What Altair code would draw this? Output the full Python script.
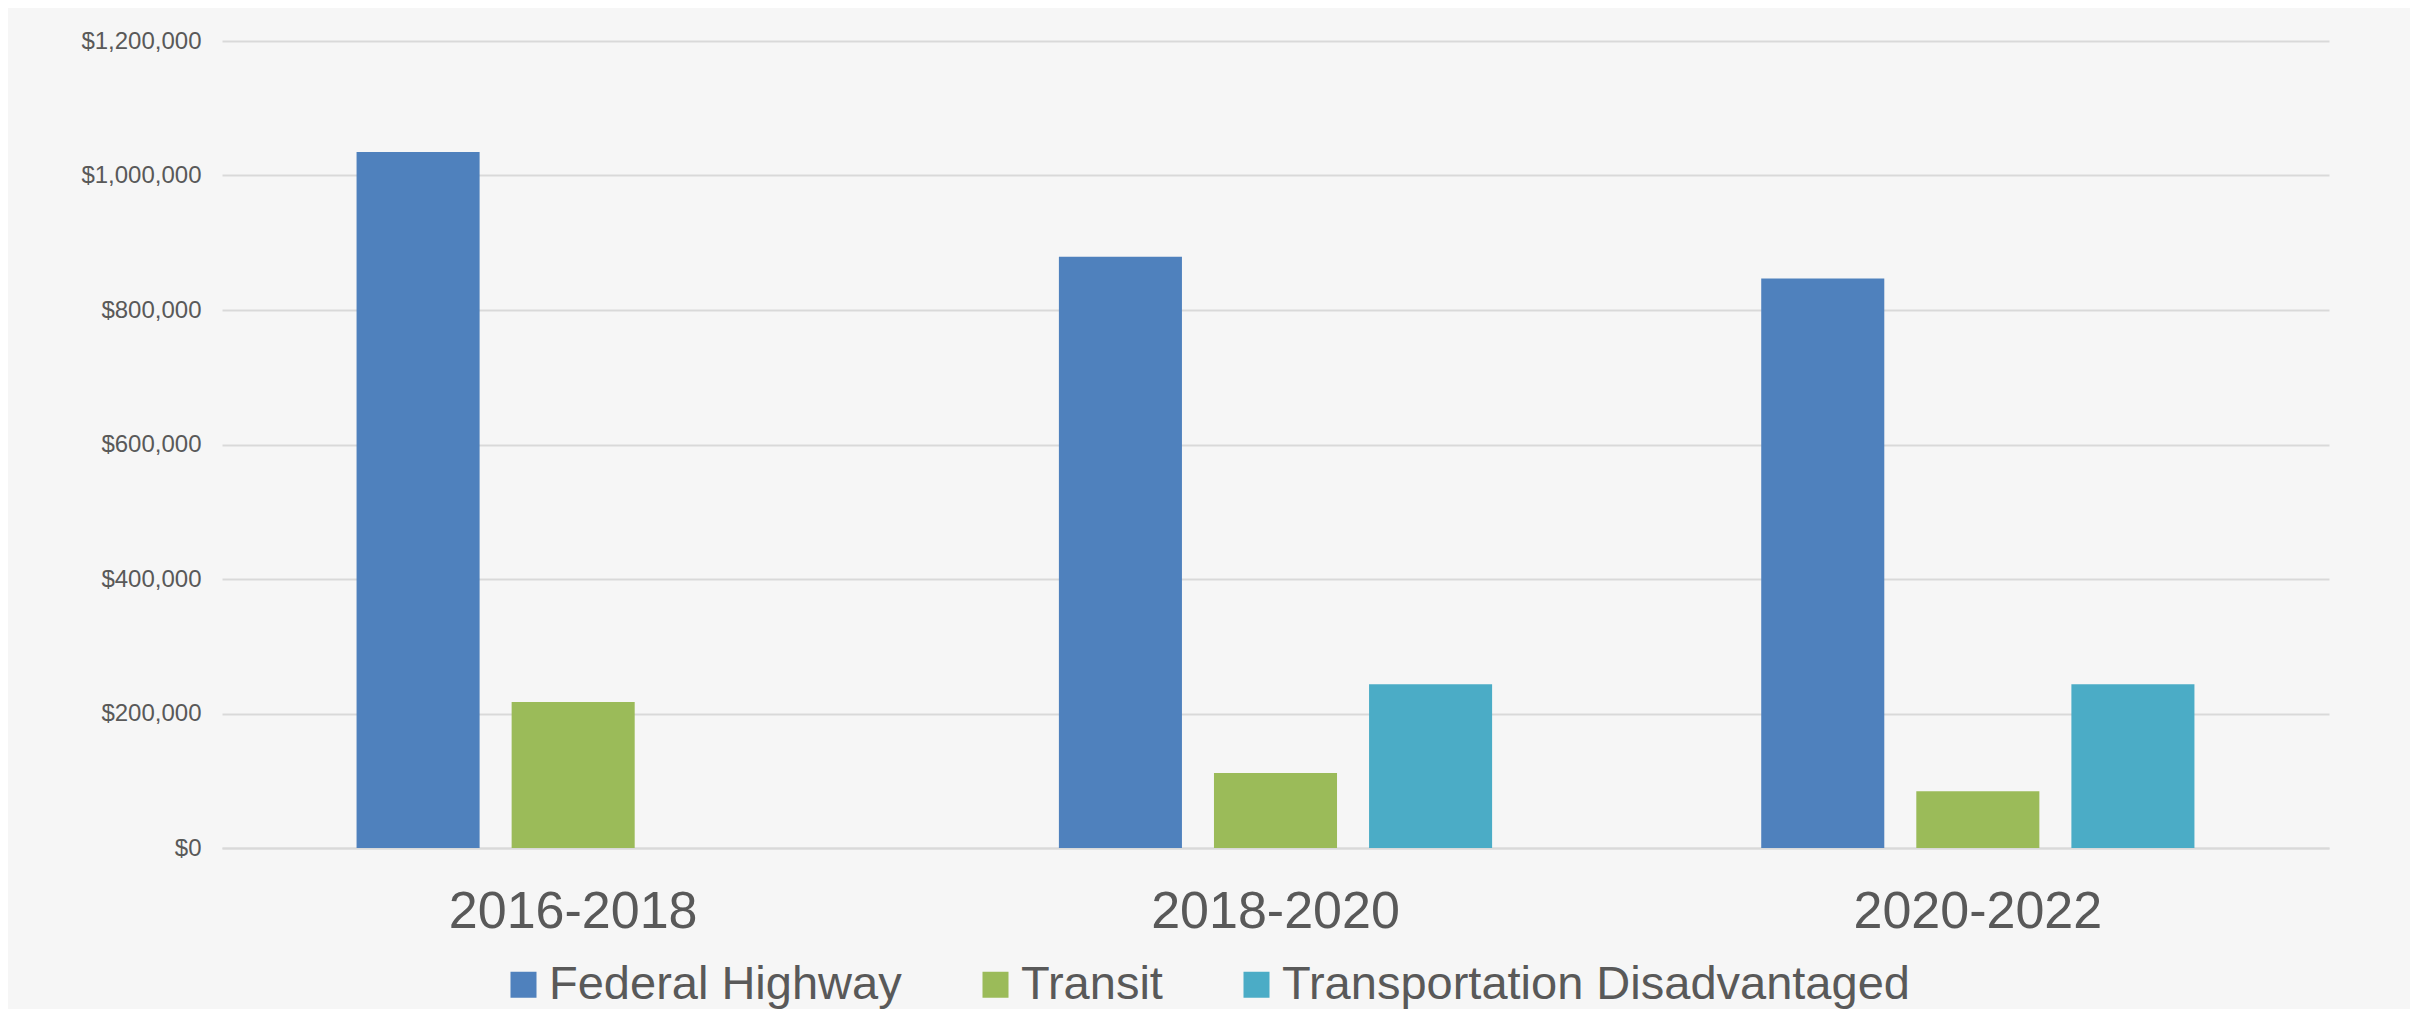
import altair as alt
import pandas as pd

periods = ["2016-2018", "2018-2020", "2020-2022"]
series = ["Federal Highway", "Transit", "Transportation Disadvantaged"]
federal_highway = [1035000, 879000, 847000]
transit = [217000, 111500, 84300]
transportation_disadvantaged = [None, 243400, 243400]
colors = ["#4f81bd", "#9bbb59", "#4bacc6"]
y_ticks = [0, 200000, 400000, 600000, 800000, 1000000, 1200000]

rows = []
for name, vals in zip(series, [federal_highway, transit, transportation_disadvantaged]):
    for p, v in zip(periods, vals):
        if v is not None:
            rows.append({"period": p, "series": name, "value": v})
df = pd.DataFrame(rows)

FONT = "Liberation Sans"
TXT = "#595959"

chart = (
    alt.Chart(df)
    .mark_bar()
    .encode(
        x=alt.X(
            "period:N",
            sort=periods,
            scale=alt.Scale(paddingInner=0, paddingOuter=0),
            axis=alt.Axis(
                title=None,
                labelAngle=0,
                labelFontSize=52,
                labelFont=FONT,
                labelColor=TXT,
                labelPadding=38,
                labelLimit=1000,
                ticks=False,
                domain=True,
                domainColor="#d9d9d9",
                domainWidth=2,
                grid=False,
            ),
        ),
        xOffset=alt.XOffset(
            "series:N",
            sort=series,
            scale=alt.Scale(paddingInner=0.2065, paddingOuter=0.8677),
        ),
        y=alt.Y(
            "value:Q",
            scale=alt.Scale(domain=[0, 1200000], nice=False),
            axis=alt.Axis(
                title=None,
                values=y_ticks,
                format="$,.0f",
                labelFontSize=24,
                labelFont=FONT,
                labelColor=TXT,
                labelPadding=21,
                ticks=False,
                domain=False,
                gridColor="#d9d9d9",
                gridWidth=2,
            ),
        ),
        color=alt.Color(
            "series:N",
            sort=series,
            scale=alt.Scale(domain=series, range=colors),
            legend=alt.Legend(
                title=None,
                orient="none",
                direction="horizontal",
                legendX=278,
                legendY=920,
                symbolType="square",
                symbolSize=676,
                symbolStrokeWidth=0,
                symbolOpacity=1,
                labelFontSize=47,
                labelFont=FONT,
                labelColor=TXT,
                labelOffset=2,
                columnPadding=70,
                padding=0,
                labelLimit=1000,
            ),
        ),
    )
    .properties(
        width=2107,
        height=807,
        background="#f6f6f6",
        padding={"left": 214, "top": 33, "right": 81, "bottom": 161},
        autosize=alt.AutoSizeParams(type="none"),
    )
    .configure_view(stroke=None)
)

chart.save("out.html", embed_options={"renderer": "svg", "actions": False})
